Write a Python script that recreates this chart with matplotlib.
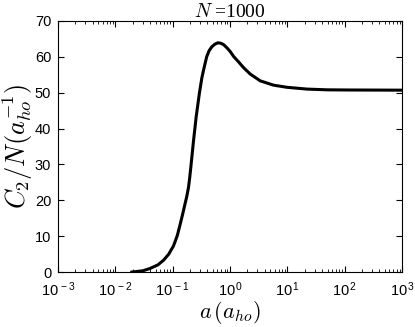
import matplotlib
matplotlib.use('Agg')
import matplotlib.pyplot as plt
from matplotlib.ticker import LogLocator, NullFormatter

# Данные
a_vals = [0.0193, 0.030, 0.040, 0.055, 0.069, 0.085, 0.103, 0.120, 0.135, 0.150,
          0.164, 0.175, 0.188, 0.197, 0.207, 0.230, 0.256, 0.292, 0.322, 0.344,
          0.39, 0.43, 0.48, 0.54, 0.61, 0.68, 0.77, 0.88, 1.0, 1.15,
          1.40, 1.71, 2.24, 3.35, 5.7, 9.8, 21.9, 48.9, 116.0, 1000.0]
c2_vals = [0.0, 0.35, 1.0, 2.0, 3.3, 5.0, 7.3, 10.2, 13.4, 16.4,
           19.1, 21.0, 23.6, 26.2, 29.4, 36.6, 43.3, 50.0, 54.2, 56.3,
           60.0, 61.7, 62.8, 63.5, 63.9, 63.8, 63.4, 62.5, 61.5, 60.1,
           58.6, 57.0, 55.2, 53.3, 52.1, 51.5, 51.0, 50.8, 50.75, 50.7]

xtick_vals = [1e-3, 1e-2, 1e-1, 1e0, 1e1, 1e2, 1e3]
xtick_labels = [r'$\mathdefault{10^{\,-3}}$', r'$\mathdefault{10^{\,-2}}$',
                r'$\mathdefault{10^{\,-1}}$', r'$\mathdefault{10^{\,0}}$',
                r'$\mathdefault{10^{\,1}}$', r'$\mathdefault{10^{\,2}}$',
                r'$\mathdefault{10^{\,3}}$']
ytick_vals = [0, 10, 20, 30, 40, 50, 60, 70]

plt.rcParams['mathtext.fontset'] = 'cm'
plt.rcParams['font.family'] = ['Liberation Sans', 'DejaVu Sans']

fig = plt.figure(figsize=(4.15, 3.27), dpi=100)
ax = fig.add_axes([0.14, 0.168, 0.829, 0.768])

ax.plot(a_vals, c2_vals, color='black', lw=2.2)

ax.set_xscale('log')
ax.set_xlim(1e-3, 1e3)
ax.set_ylim(0, 70)
ax.set_yticks(ytick_vals)
ax.set_xticks(xtick_vals)
ax.set_xticklabels(xtick_labels)
ax.xaxis.set_minor_locator(LogLocator(base=10, subs=range(2, 10), numticks=20))
ax.xaxis.set_minor_formatter(NullFormatter())

ax.tick_params(which='both', direction='in', top=True, right=True, labelsize=10.5)
ax.tick_params(axis='x', pad=6)
ax.tick_params(axis='y', pad=5)
ax.tick_params(which='major', length=4, width=0.8)
ax.tick_params(which='minor', length=2, width=0.6)

ax.set_xlabel(r'$a\,(a_{ho})$', fontsize=16, labelpad=0)
ax.set_ylabel(r'$C_2/N(a_{ho}^{-1})$', fontsize=19, labelpad=0)
ax.set_title(r'$N$ =1000', fontsize=14, family='Liberation Serif', pad=2)

fig.savefig('out.png', dpi=100)
